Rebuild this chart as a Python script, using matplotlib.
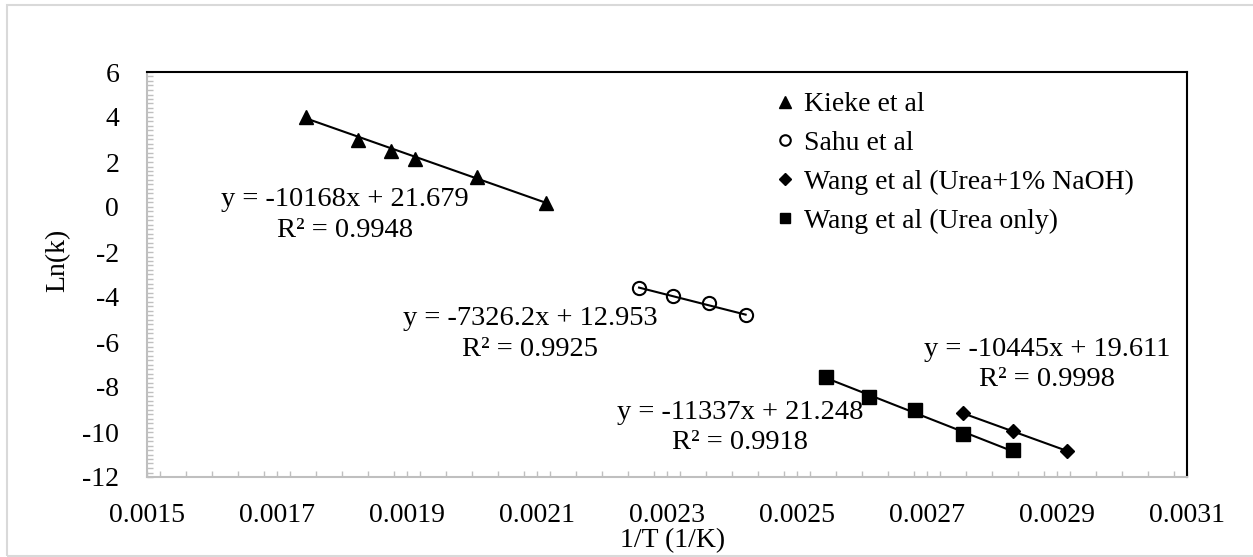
import matplotlib.pyplot as plt
from matplotlib.patches import Rectangle
from matplotlib.ticker import FixedLocator, MultipleLocator

# Datos 1/T (1/K) y Ln(k) por autor
kieke_x = [0.001745, 0.001825, 0.001876, 0.001912, 0.002008, 0.002114]
kieke_y = [4.00, 3.00, 2.50, 2.15, 1.35, 0.20]

sahu_x = [0.002257, 0.002309, 0.002364, 0.002421]
sahu_y = [-3.58, -3.97, -4.28, -4.80]

wang_naoh_x = [0.002755, 0.002833, 0.002915]
wang_naoh_y = [-9.17, -9.96, -10.84]

wang_urea_x = [0.002545, 0.002611, 0.002681, 0.002755, 0.002833]
wang_urea_y = [-7.55, -8.45, -9.00, -10.10, -10.80]

# Ajustes lineales (pendiente, intercepto, R²)
ajustes = {
    "kieke": (-10168, 21.679, 0.9948),
    "sahu": (-7326.2, 12.953, 0.9925),
    "wang_naoh": (-10445, 19.611, 0.9998),
    "wang_urea": (-11337, 21.248, 0.9918),
}

x_ticks = ["0.0015", "0.0017", "0.0019", "0.0021", "0.0023", "0.0025", "0.0027", "0.0029", "0.0031"]
y_ticks = [6, 4, 2, 0, -2, -4, -6, -8, -10, -12]

plt.rcParams["font.family"] = ["Liberation Serif", "DejaVu Serif"]
plt.rcParams["font.size"] = 20
plt.rcParams["axes.unicode_minus"] = False

fig = plt.figure(figsize=(12.53, 5.57), dpi=100)
ax = fig.add_axes([147 / 1253, 1 - 477 / 557, 1040 / 1253, 405 / 557])

# borde del área del gráfico
fig.patches.append(Rectangle((7 / 1253, 1 / 557), 1.2, 551 / 557, transform=fig.transFigure,
                             fill=False, edgecolor="#d9d9d9", linewidth=1.5, zorder=0))

series = [
    (kieke_x, kieke_y, "kieke", "^", "Kieke et al", dict(color="black", markersize=10)),
    (sahu_x, sahu_y, "sahu", "o", "Sahu et al",
     dict(markerfacecolor="none", markeredgecolor="black", markeredgewidth=1.5, markersize=9.5)),
    (wang_naoh_x, wang_naoh_y, "wang_naoh", "D", "Wang et al (Urea+1% NaOH)", dict(color="black", markersize=7.5)),
    (wang_urea_x, wang_urea_y, "wang_urea", "s", "Wang et al (Urea only)", dict(color="black", markersize=9.5)),
]

for xs, ys, clave, marcador, etiqueta, estilo in series:
    m, b, r2 = ajustes[clave]
    x0, x1 = min(xs), max(xs)
    ax.plot([x0, x1], [m * x0 + b, m * x1 + b], color="black", linewidth=1.5, zorder=2)
    ax.plot(xs, ys, linestyle="none", marker=marcador, label=etiqueta, zorder=3, **estilo)

# ecuaciones de las líneas de tendencia
pos_texto = {
    "kieke": (0.001805, -0.35),
    "sahu": (0.002089, -5.65),
    "wang_urea": (0.002412, -9.8),
    "wang_naoh": (0.002885, -7.0),
}
for clave, (tx, ty) in pos_texto.items():
    m, b, r2 = ajustes[clave]
    ax.text(tx, ty, f"y = {m:g}x + {b:g}\nR² = {r2:.4f}", ha="center", va="center",
            linespacing=1.3, fontsize=20.5, zorder=4)

ax.set_xlim(0.0015, 0.0031)
ax.set_ylim(-12, 6)
ax.xaxis.set_major_locator(FixedLocator([float(t) for t in x_ticks]))
ax.set_xticklabels(x_ticks)
ax.xaxis.set_minor_locator(MultipleLocator(0.00004))
ax.set_yticks(y_ticks)
ax.yaxis.set_minor_locator(MultipleLocator(0.2))

ax.tick_params(which="both", direction="in", length=4, width=1, color="#bfbfbf")
ax.tick_params(axis="x", which="major", pad=19)
ax.tick_params(axis="y", which="major", pad=20)

for lado in ["left", "bottom"]:
    ax.spines[lado].set_color("#bfbfbf")
    ax.spines[lado].set_linewidth(1.5)
for lado in ["top", "right"]:
    ax.spines[lado].set_color("black")
    ax.spines[lado].set_linewidth(1.5)

ax.set_xlabel("1/T (1/K)")
ax.set_ylabel("Ln(k)")
ax.xaxis.set_label_coords(0.505, -0.125)
ax.yaxis.set_label_coords(-0.074, 0.536)

ax.legend(loc="upper left", bbox_to_anchor=(0.592, 0.985), frameon=False, markerscale=0.8,
          handlelength=0.6, handletextpad=0.4, labelspacing=0.48, borderpad=0)

fig.savefig("out.png", dpi=100)
